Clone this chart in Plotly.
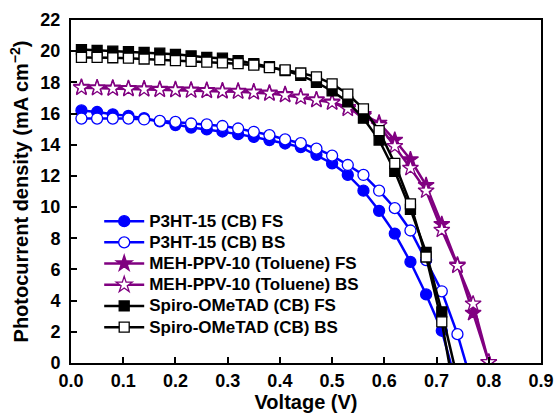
import plotly.graph_objects as go

voltage = [0.02, 0.05, 0.08, 0.11, 0.14, 0.17, 0.20, 0.23, 0.26, 0.29, 0.32, 0.35,
           0.38, 0.41, 0.44, 0.47, 0.50, 0.53, 0.56, 0.59, 0.62, 0.65, 0.68, 0.71,
           0.74, 0.77, 0.80]

p3ht_fs = [16.2, 16.1, 15.95, 15.85, 15.7, 15.5, 15.26, 15.1, 14.98, 14.85, 14.68, 14.5,
           14.3, 14.08, 13.85, 13.35, 12.8, 12.06, 11.05, 9.76, 8.3, 6.48, 4.4, 2.07,
           -1.6]
p3ht_bs = [15.68, 15.68, 15.68, 15.68, 15.62, 15.53, 15.47, 15.36, 15.3, 15.2, 15.04, 14.83,
           14.62, 14.34, 14.1, 13.75, 13.3, 12.7, 12.06, 11.05, 9.93, 8.5, 6.6, 4.6,
           1.85, -1.6]
meh_fs = [17.7, 17.67, 17.65, 17.62, 17.6, 17.57, 17.55, 17.52, 17.5, 17.47, 17.45, 17.4,
          17.33, 17.23, 17.08, 16.9, 16.75, 16.4, 15.95, 15.4, 14.3, 13.05, 11.4, 8.9,
          6.3, 3.2, 0.05]
meh_bs = [17.65, 17.62, 17.6, 17.57, 17.55, 17.52, 17.5, 17.47, 17.45, 17.42, 17.4, 17.35,
          17.28, 17.18, 17.03, 16.86, 16.7, 16.3, 15.85, 15.25, 13.9, 12.5, 11.05, 8.53,
          6.23, 3.8, 0.05]
spiro_fs = [20.1, 20.05, 20.0, 19.97, 19.92, 19.87, 19.8, 19.7, 19.6, 19.55, 19.4, 19.2,
            19.0, 18.75, 18.45, 18.0, 17.45, 16.75, 15.7, 14.3, 12.3, 9.85, 7.1, 3.28,
            -1.0]
spiro_bs = [19.6, 19.6, 19.58, 19.55, 19.5, 19.45, 19.4, 19.35, 19.3, 19.25, 19.2, 19.1,
            18.95, 18.8, 18.6, 18.35, 17.9, 17.25, 16.3, 14.9, 12.8, 10.2, 6.8, 2.64,
            -3.0]

names = ["P3HT-15 (CB) FS", "P3HT-15 (CB) BS", "MEH-PPV-10 (Toluene) FS",
         "MEH-PPV-10 (Toluene) BS", "Spiro-OMeTAD (CB) FS", "Spiro-OMeTAD (CB) BS"]

BLUE = "#0000FF"
PURPLE = "#800080"
BLACK = "#000000"

series = [
    (names[0], p3ht_fs, BLUE, "circle", True, 11),
    (names[1], p3ht_bs, BLUE, "circle", False, 11),
    (names[2], meh_fs, PURPLE, "star", True, 12),
    (names[3], meh_bs, PURPLE, "star", False, 12),
    (names[4], spiro_fs, BLACK, "square", True, 10),
    (names[5], spiro_bs, BLACK, "square", False, 10),
]

fig = go.Figure()
for name, ys, col, sym, filled, size in series:
    fig.add_trace(go.Scatter(
        x=voltage[:len(ys)], y=ys,
        name="<span style='font-size:17px'>" + name + "</span>",
        mode="lines+markers",
        line=dict(color=col, width=2.5),
        marker=dict(symbol=sym, size=size,
                    color=col if filled else "white",
                    line=dict(color=col, width=1.3)),
        cliponaxis=True,
    ))

fnt = "Liberation Sans, Arial, sans-serif"
fig.update_layout(
    width=554, height=414,
    margin=dict(l=71, r=13, t=20, b=51),
    paper_bgcolor="white", plot_bgcolor="white",
    font=dict(family=fnt, size=15, color="black"),
    showlegend=True,
    legend=dict(x=0.06, y=0.459, xanchor="left", yanchor="top",
                bgcolor="rgba(0,0,0,0)", font=dict(size=14, family=fnt, weight="bold"),
                tracegroupgap=0, itemwidth=40),
)
fig.update_xaxes(
    range=[0, 0.9], dtick=0.1, tick0=0, tickformat=".1f",
    ticks="inside", ticklen=6, tickwidth=2, tickcolor="black",
    showline=True, linewidth=2, linecolor="black", mirror=True,
    showgrid=False, zeroline=False, automargin=False,
    tickfont=dict(size=18, family=fnt, weight="bold"),
    title=dict(text="Voltage (V)", font=dict(size=20, family=fnt, weight="bold"), standoff=4),
)
fig.update_yaxes(
    range=[0, 22], dtick=2, tick0=0,
    ticks="inside", ticklen=6, tickwidth=2, tickcolor="black",
    showline=True, linewidth=2, linecolor="black", mirror=True,
    showgrid=False, zeroline=False, ticklabelstandoff=5, automargin=False,
    tickfont=dict(size=18, family=fnt, weight="bold"),
    title=dict(text="Photocurrent density (mA cm<sup>\u22122</sup>)",
               font=dict(size=20, family=fnt, weight="bold"), standoff=6),
)

fig.write_html("out.html", config={"displayModeBar": False},
               post_script="document.body.style.margin='0';document.body.style.padding='0';")
